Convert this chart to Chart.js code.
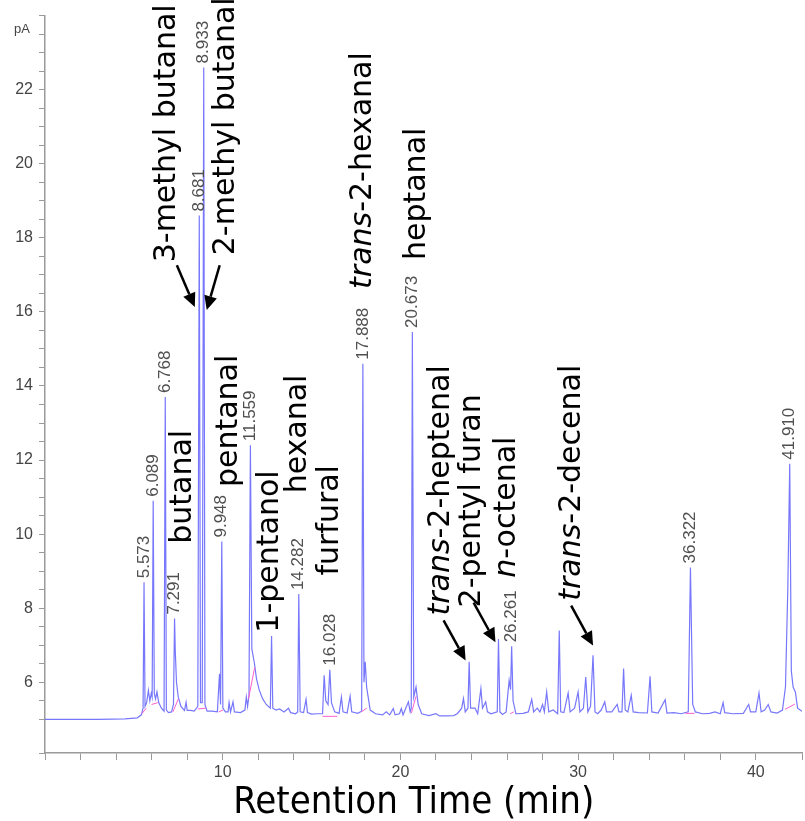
<!DOCTYPE html>
<html>
<head>
<meta charset="utf-8">
<title>GC chromatogram</title>
<script src="https://cdn.jsdelivr.net/npm/chart.js@4.4.1/dist/chart.umd.min.js"></script>
<style>
  html, body { margin: 0; padding: 0; background: #fff; }
  #wrap { position: relative; width: 805px; height: 821px; }
</style>
</head>
<body>
<div id="wrap"><canvas id="chart"></canvas></div>
<script>
"use strict";

// FID trace: [retention time (min), signal (pA)]
const chromatogram = [
  [0.0, 5.00], [3.0, 5.00], [4.5, 5.01], [5.2, 5.04], [5.42, 5.12], [5.52, 5.3],
  [5.573, 8.70], [5.63, 5.35], [5.72, 5.45], [5.82, 5.78], [5.9, 5.5], [5.98, 5.7],
  [6.03, 5.6], [6.089, 10.9], [6.15, 5.7], [6.22, 5.55], [6.3, 5.74], [6.4, 5.45],
  [6.55, 5.3], [6.7, 5.22], [6.768, 13.7], [6.83, 5.25], [6.95, 5.18], [7.12, 5.2],
  [7.23, 5.4], [7.291, 7.72], [7.33, 6.86], [7.4, 6.0], [7.5, 5.6], [7.65, 5.35],
  [7.85, 5.24], [7.94, 5.46], [8.0, 5.24], [8.2, 5.24], [8.4, 5.22], [8.6, 5.35],
  [8.681, 18.6], [8.75, 5.45], [8.85, 5.45], [8.933, 22.6], [9.0, 5.4], [9.12, 5.22],
  [9.4, 5.22], [9.7, 5.2], [9.82, 6.23], [9.88, 5.4], [9.948, 9.8], [10.01, 5.3],
  [10.15, 5.2], [10.3, 5.2], [10.36, 5.45], [10.44, 5.2], [10.58, 5.47], [10.66, 5.2],
  [11.0, 5.18], [11.25, 5.25], [11.33, 5.6], [11.4, 5.35], [11.48, 5.65], [11.559, 12.4],
  [11.64, 6.9], [11.79, 6.5], [11.9, 6.1], [12.05, 5.8], [12.25, 5.55], [12.45, 5.4],
  [12.68, 5.3], [12.75, 7.25], [12.82, 5.3], [13.0, 5.25], [13.2, 5.28], [13.45, 5.2],
  [13.7, 5.3], [13.82, 5.18], [14.1, 5.15], [14.22, 5.2], [14.282, 8.38], [14.36, 5.2],
  [14.55, 5.18], [14.69, 5.54], [14.77, 5.18], [15.0, 5.14], [15.3, 5.15], [15.62, 5.15],
  [15.71, 6.19], [15.8, 5.5], [15.93, 5.4], [16.028, 6.34], [16.12, 5.45], [16.3, 5.2],
  [16.55, 5.16], [16.68, 5.6], [16.77, 5.2], [17.0, 5.17], [17.17, 5.62], [17.26, 5.2],
  [17.6, 5.16], [17.82, 5.22], [17.888, 14.6], [17.95, 6.0], [18.02, 6.55], [18.1, 5.87],
  [18.3, 5.25], [18.6, 5.15], [19.0, 5.12], [19.2, 5.2], [19.4, 5.12], [19.6, 5.29],
  [19.7, 5.12], [19.95, 5.15], [20.05, 5.29], [20.15, 5.12], [20.45, 5.47], [20.55, 5.2],
  [20.61, 5.3], [20.673, 15.46], [20.75, 5.6], [20.88, 5.87], [21.0, 5.4], [21.2, 5.15],
  [21.6, 5.1], [22.0, 5.15], [22.2, 5.09], [22.6, 5.09], [23.0, 5.1], [23.2, 5.15],
  [23.45, 5.3], [23.55, 5.56], [23.65, 5.2], [23.8, 5.3], [23.87, 6.55], [23.95, 5.3],
  [24.2, 5.3], [24.35, 5.15], [24.53, 5.83], [24.62, 5.3], [24.8, 5.47], [24.9, 5.2],
  [25.1, 5.15], [25.45, 5.2], [25.52, 7.17], [25.6, 5.2], [25.75, 5.13], [25.95, 5.2],
  [26.12, 6.05], [26.2, 5.8], [26.261, 6.97], [26.34, 5.5], [26.5, 5.15], [26.9, 5.16],
  [27.2, 5.2], [27.39, 5.54], [27.5, 5.2], [27.7, 5.3], [27.85, 5.2], [28.0, 5.4],
  [28.1, 5.2], [28.23, 5.74], [28.35, 5.2], [28.6, 5.25], [28.85, 5.15], [28.94, 7.4],
  [29.02, 5.2], [29.2, 5.18], [29.44, 5.71], [29.55, 5.2], [29.8, 5.3], [30.0, 5.74],
  [30.1, 5.2], [30.3, 5.3], [30.43, 6.14], [30.55, 5.2], [30.7, 5.35], [30.84, 6.73],
  [30.95, 5.2], [31.1, 5.15], [31.3, 5.25], [31.5, 5.47], [31.6, 5.2], [31.9, 5.2],
  [32.2, 5.4], [32.3, 5.2], [32.47, 5.2], [32.56, 6.37], [32.65, 5.25], [32.8, 5.2],
  [32.99, 5.65], [33.1, 5.2], [33.4, 5.18], [33.9, 5.17], [34.05, 6.16], [34.15, 5.2],
  [34.5, 5.17], [34.9, 5.53], [35.0, 5.17], [35.4, 5.18], [35.8, 5.15], [36.2, 5.2],
  [36.322, 9.1], [36.45, 5.4], [36.6, 5.2], [37.0, 5.15], [37.4, 5.16], [37.7, 5.2],
  [38.0, 5.15], [38.16, 5.45], [38.25, 5.18], [38.7, 5.15], [39.3, 5.16], [39.6, 5.4],
  [39.7, 5.2], [40.0, 5.2], [40.18, 5.71], [40.3, 5.2], [40.5, 5.25], [40.7, 5.4],
  [40.85, 5.2], [41.2, 5.17], [41.5, 5.25], [41.67, 5.87], [41.8, 8.5], [41.91, 11.9],
  [42.0, 6.3], [42.1, 5.87], [42.23, 5.73], [42.35, 5.3], [42.6, 5.22],
];

// integration baselines (pink): [rt start, pA start, rt end, pA end]
const baselines = [
  [5.45, 5.15, 5.7, 5.3], [6.0, 5.4, 6.35, 5.45], [7.2, 5.2, 7.5, 5.55],
  [8.6, 5.28, 9.05, 5.3], [9.78, 5.2, 10.02, 5.25], [11.45, 5.55, 11.8, 6.4],
  [15.62, 5.08, 16.45, 5.08], [17.8, 5.2, 18.1, 5.3], [20.62, 5.17, 20.88, 5.62],
  [26.18, 5.15, 26.38, 5.2], [36.05, 5.16, 36.55, 5.16], [41.65, 5.27, 42.2, 5.41],
];

// labelled peaks: retention time and apex height
const peakRt = [5.573, 6.089, 6.768, 7.291, 8.681, 8.933, 9.948, 11.559, 14.282,
  16.028, 17.888, 20.673, 26.261, 36.322, 41.910];
const peakTop = [8.70, 10.9, 13.7, 7.72, 18.6, 22.6, 9.8, 12.4, 8.38,
  6.34, 14.6, 15.46, 6.97, 9.1, 11.9];

// compound names (italic prefix + rest)
const nameItalic = ["", "", "", "", "", "", "", "trans", "", "trans", "", "n", "trans"];
const nameRest = ["3-methyl butanal", "2-methyl butanal", "butanal", "pentanal",
  "1-pentanol", "hexanal", "furfural", "-2-hexanal", "heptanal", "-2-heptenal",
  "2-pentyl furan", "-octenal", "-2-decenal"];

// where each rotated name starts, in axis units [rt, pA]
const nameAt = [[6.89, 17.34], [10.2, 17.53], [7.76, 9.74], [10.34, 11.27],
  [12.69, 7.34], [14.26, 11.1], [16.05, 8.88], [17.9, 16.62], [20.92, 17.4],
  [22.32, 7.8], [24.06, 8.02], [26.02, 8.82], [29.66, 8.2]];

// arrows [rt from, pA from, rt to, pA to]
const arrows = [[7.42, 17.26, 8.43, 16.13], [9.83, 17.26, 9.10, 16.05],
  [22.43, 7.67, 23.67, 6.59], [24.12, 8.15, 25.35, 7.08], [29.61, 8.07, 30.84, 6.99]];

const NAME_FONT = "30px 'DejaVu Sans', sans-serif";
const RT_FONT = "17px 'Liberation Sans', Arial, sans-serif";
const TICK_FONT = { family: "'Liberation Sans', Arial, sans-serif", size: 16 };

const isEven = (v) => Math.abs(v - Math.round(v / 2) * 2) < 1e-6;

const annotate = {
  id: "annotate",
  afterDraw(chart) {
    const { ctx, scales: { x, y } } = chart;
    ctx.save();

    // retention times above the peaks
    ctx.fillStyle = "#505050";
    ctx.font = RT_FONT;
    ctx.textAlign = "left";
    ctx.textBaseline = "middle";
    peakRt.forEach((t, i) => {
      ctx.save();
      ctx.translate(x.getPixelForValue(t), y.getPixelForValue(peakTop[i]) - 4);
      ctx.rotate(-Math.PI / 2);
      ctx.fillText(t.toFixed(3), 0, 0);
      ctx.restore();
    });

    // compound names
    ctx.fillStyle = "#000";
    nameRest.forEach((rest, i) => {
      const [t, v] = nameAt[i];
      ctx.save();
      ctx.translate(x.getPixelForValue(t), y.getPixelForValue(v));
      ctx.rotate(-Math.PI / 2);
      let dx = 0;
      if (nameItalic[i]) {
        ctx.font = "italic " + NAME_FONT;
        ctx.fillText(nameItalic[i], 0, 0);
        dx = ctx.measureText(nameItalic[i]).width;
      }
      ctx.font = NAME_FONT;
      ctx.fillText(rest, dx, 0);
      ctx.restore();
    });

    // arrows
    ctx.strokeStyle = "#000";
    ctx.lineWidth = 2.5;
    for (const [t0, v0, t1, v1] of arrows) {
      const x0 = x.getPixelForValue(t0), y0 = y.getPixelForValue(v0);
      const x1 = x.getPixelForValue(t1), y1 = y.getPixelForValue(v1);
      const a = Math.atan2(y1 - y0, x1 - x0);
      const bx = x1 - 14 * Math.cos(a), by = y1 - 14 * Math.sin(a);
      ctx.beginPath();
      ctx.moveTo(x0, y0);
      ctx.lineTo(bx, by);
      ctx.stroke();
      ctx.beginPath();
      ctx.moveTo(x1, y1);
      ctx.lineTo(bx - 6.5 * Math.sin(a), by + 6.5 * Math.cos(a));
      ctx.lineTo(bx + 6.5 * Math.sin(a), by - 6.5 * Math.cos(a));
      ctx.closePath();
      ctx.fill();
    }

    // unit and axis title
    ctx.fillStyle = "#444";
    ctx.font = "13px 'Liberation Sans', Arial, sans-serif";
    ctx.textAlign = "center";
    ctx.fillText("pA", chart.chartArea.left - 23, y.getPixelForValue(24) + 14);

    ctx.fillStyle = "#000";
    ctx.font = "38px 'DejaVu Sans Condensed', 'DejaVu Sans', sans-serif";
    ctx.textBaseline = "alphabetic";
    ctx.fillText("Retention Time (min)", x.getPixelForValue(20.75), x.top + 60);
    ctx.restore();
  },
};

new Chart(document.getElementById("chart"), {
  type: "line",
  data: {
    datasets: [
      ...baselines.map(([t0, v0, t1, v1]) => ({
        data: [{ x: t0, y: v0 }, { x: t1, y: v1 }],
        borderColor: "#ff5fcf",
        borderWidth: 1,
        order: 0,
      })),
      {
        data: chromatogram.map(([t, v]) => ({ x: t, y: v })),
        borderColor: "rgba(85,85,250,0.8)",
        borderWidth: 1.2,
        order: 1,
      },
    ],
  },
  options: {
    animation: false,
    responsive: true,
    maintainAspectRatio: false,
    layout: { padding: { top: 13, right: 0, left: 0, bottom: 0 } },
    elements: { point: { radius: 0 }, line: { tension: 0 } },
    plugins: { legend: { display: false }, tooltip: { enabled: false } },
    scales: {
      x: {
        type: "linear",
        min: 0,
        max: 42.6,
        border: { color: "#9a9a9a", width: 1.5 },
        grid: { drawOnChartArea: false, tickLength: 7, color: "#9a9a9a" },
        ticks: {
          stepSize: 2, autoSkip: false, maxRotation: 0, padding: 3,
          color: "#444", font: TICK_FONT,
          callback: (v) => (v > 0 && v % 10 === 0 ? String(v) : ""),
        },
        afterFit: (s) => { s.height = 68; },
      },
      y: {
        min: 4.09,
        max: 24,
        border: { color: "#9a9a9a", width: 1.5 },
        grid: { drawOnChartArea: false, tickLength: 6, color: "#9a9a9a" },
        ticks: {
          stepSize: 0.5, autoSkip: false, padding: 6,
          color: "#444", font: TICK_FONT,
          callback: (v) => (isEven(v) && v < 23 ? String(v) : ""),
        },
        afterFit: (s) => { s.width = 45; },
      },
    },
  },
  plugins: [annotate],
});
</script>
</body>
</html>
